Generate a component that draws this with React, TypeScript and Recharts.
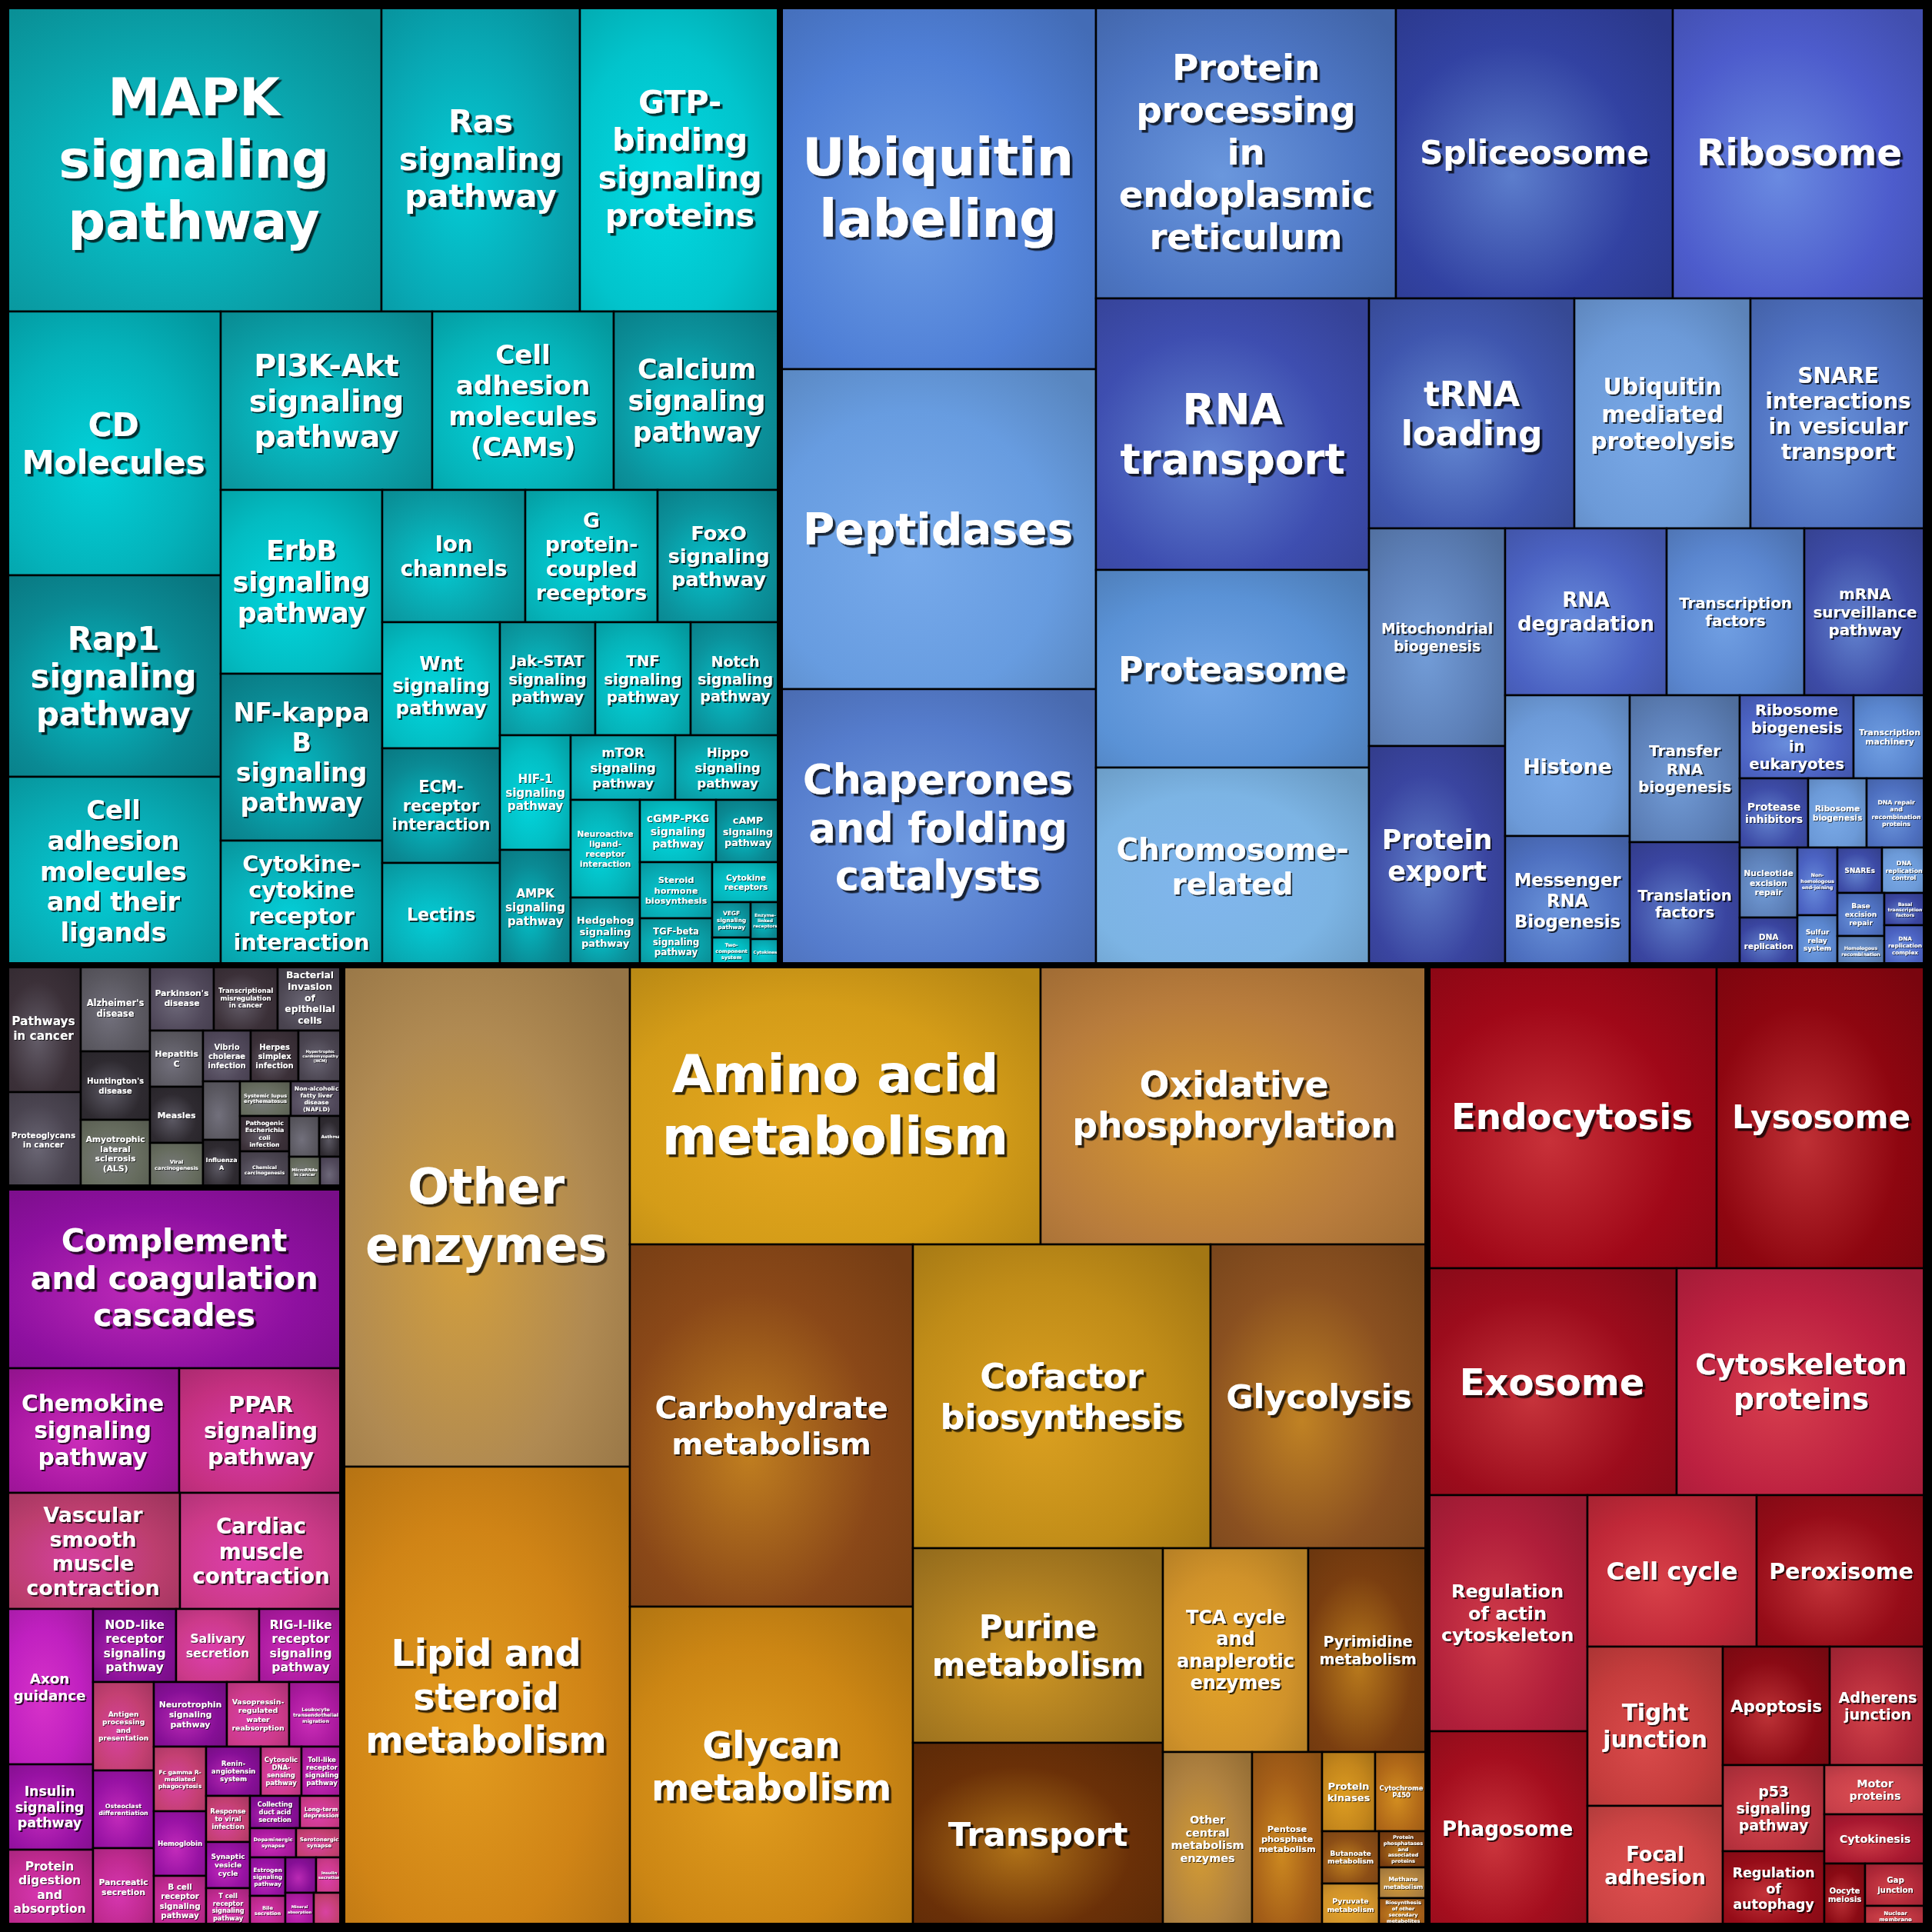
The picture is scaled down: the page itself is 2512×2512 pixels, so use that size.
import React from "react";
import { Treemap } from "recharts";

const SIZE = 2496;
const OFFSET = 8;
const LINE = 1.18;

// estimated cell areas (arbitrary units, comparable across groups)
const signaling = [
  { name: "MAPK signaling pathway", size: 85 },
  { name: "Ras signaling pathway", size: 45 },
  { name: "GTP-binding signaling proteins", size: 45 },
  { name: "CD Molecules", size: 42 },
  { name: "Rap1 signaling pathway", size: 32 },
  { name: "Cell adhesion molecules and their ligands", size: 30 },
  { name: "PI3K-Akt signaling pathway", size: 28 },
  { name: "Cell adhesion molecules (CAMs)", size: 24 },
  { name: "Calcium signaling pathway", size: 22 },
  { name: "ErbB signaling pathway", size: 22 },
  { name: "NF-kappa B signaling pathway", size: 20 },
  { name: "Cytokine-cytokine receptor interaction", size: 15 },
  { name: "Ion channels", size: 14 },
  { name: "G protein-coupled receptors", size: 13 },
  { name: "FoxO signaling pathway", size: 12 },
  { name: "Wnt signaling pathway", size: 11 },
  { name: "ECM-receptor interaction", size: 10 },
  { name: "Lectins", size: 9 },
  { name: "Jak-STAT signaling pathway", size: 8 },
  { name: "TNF signaling pathway", size: 8 },
  { name: "Notch signaling pathway", size: 7.5 },
  { name: "HIF-1 signaling pathway", size: 6 },
  { name: "AMPK signaling pathway", size: 6 },
  { name: "mTOR signaling pathway", size: 5 },
  { name: "Hippo signaling pathway", size: 5 },
  { name: "Neuroactive ligand-receptor interaction", size: 5 },
  { name: "Hedgehog signaling pathway", size: 3.5 },
  { name: "cGMP-PKG signaling pathway", size: 3.5 },
  { name: "cAMP signaling pathway", size: 3 },
  { name: "Steroid hormone biosynthesis", size: 3 },
  { name: "TGF-beta signaling pathway", size: 2.5 },
  { name: "Cytokine receptors", size: 2 },
  { name: "VEGF signaling pathway", size: 1 },
  { name: "Two-component system", size: 0.8 },
  { name: "Enzyme-linked receptors", size: 0.8 },
  { name: "Cytokines", size: 0.5 },
];

const genetic = [
  { name: "Ubiquitin labeling", size: 85 },
  { name: "Peptidases", size: 75 },
  { name: "Chaperones and folding catalysts", size: 65 },
  { name: "Protein processing in endoplasmic reticulum", size: 65 },
  { name: "Spliceosome", size: 60 },
  { name: "Ribosome", size: 55 },
  { name: "RNA transport", size: 55 },
  { name: "Proteasome", size: 40 },
  { name: "Chromosome-related", size: 40 },
  { name: "tRNA loading", size: 35 },
  { name: "Ubiquitin mediated proteolysis", size: 30 },
  { name: "SNARE interactions in vesicular transport", size: 30 },
  { name: "Mitochondrial biogenesis", size: 22 },
  { name: "Protein export", size: 22 },
  { name: "RNA degradation", size: 20 },
  { name: "Transcription factors", size: 17 },
  { name: "mRNA surveillance pathway", size: 15 },
  { name: "Histone", size: 13 },
  { name: "Messenger RNA Biogenesis", size: 12 },
  { name: "Transfer RNA biogenesis", size: 12 },
  { name: "Translation factors", size: 10 },
  { name: "Ribosome biogenesis in eukaryotes", size: 7 },
  { name: "Transcription machinery", size: 4.5 },
  { name: "Protease inhibitors", size: 3.5 },
  { name: "Ribosome biogenesis", size: 3 },
  { name: "DNA repair and recombination proteins", size: 3 },
  { name: "Nucleotide excision repair", size: 3 },
  { name: "DNA replication", size: 2 },
  { name: "Non-homologous end-joining", size: 2 },
  { name: "Sulfur relay system", size: 1.5 },
  { name: "SNAREs", size: 1.5 },
  { name: "DNA replication control", size: 1.5 },
  { name: "Base excision repair", size: 1.5 },
  { name: "Homologous recombination", size: 1 },
  { name: "Basal transcription factors", size: 1 },
  { name: "DNA replication complex", size: 0.8 },
];

const metabolism = [
  { name: "Other enzymes", size: 107 },
  { name: "Lipid and steroid metabolism", size: 98 },
  { name: "Amino acid metabolism", size: 85 },
  { name: "Oxidative phosphorylation", size: 80 },
  { name: "Carbohydrate metabolism", size: 76 },
  { name: "Glycan metabolism", size: 67 },
  { name: "Cofactor biosynthesis", size: 67 },
  { name: "Glycolysis", size: 49 },
  { name: "Purine metabolism", size: 36 },
  { name: "Transport", size: 34 },
  { name: "TCA cycle and anaplerotic enzymes", size: 22 },
  { name: "Pyrimidine metabolism", size: 18 },
  { name: "Other central metabolism enzymes", size: 11.5 },
  { name: "Pentose phosphate metabolism", size: 9 },
  { name: "Protein kinases", size: 3.1 },
  { name: "Cytochrome P450", size: 3.1 },
  { name: "Butanoate metabolism", size: 2.2 },
  { name: "Pyruvate metabolism", size: 1.8 },
  { name: "Protein phosphatases and associated proteins", size: 1.3 },
  { name: "Methane metabolism", size: 1.1 },
  { name: "Biosynthesis of other secondary metabolites", size: 0.9 },
];

const cellular = [
  { name: "Endocytosis", size: 65 },
  { name: "Lysosome", size: 47 },
  { name: "Exosome", size: 42 },
  { name: "Cytoskeleton proteins", size: 42 },
  { name: "Regulation of actin cytoskeleton", size: 28 },
  { name: "Phagosome", size: 23 },
  { name: "Cell cycle", size: 19 },
  { name: "Peroxisome", size: 19 },
  { name: "Tight junction", size: 16 },
  { name: "Focal adhesion", size: 12 },
  { name: "Apoptosis", size: 9.4 },
  { name: "Adherens junction", size: 8.4 },
  { name: "p53 signaling pathway", size: 6.5 },
  { name: "Regulation of autophagy", size: 5.6 },
  { name: "Motor proteins", size: 3.7 },
  { name: "Cytokinesis", size: 3.7 },
  { name: "Oocyte meiosis", size: 1.9 },
  { name: "Gap junction", size: 1.9 },
  { name: "Nuclear membrane", size: 1.1 },
];

const organismal = [
  { name: "Complement and coagulation cascades", size: 45 },
  { name: "Chemokine signaling pathway", size: 16 },
  { name: "PPAR signaling pathway", size: 15 },
  { name: "Vascular smooth muscle contraction", size: 15 },
  { name: "Cardiac muscle contraction", size: 14 },
  { name: "Axon guidance", size: 10 },
  { name: "Insulin signaling pathway", size: 5.5 },
  { name: "Protein digestion and absorption", size: 5 },
  { name: "NOD-like receptor signaling pathway", size: 4.5 },
  { name: "Salivary secretion", size: 4.5 },
  { name: "RIG-I-like receptor signaling pathway", size: 4.5 },
  { name: "Antigen processing and presentation", size: 4 },
  { name: "Osteoclast differentiation", size: 3.5 },
  { name: "Pancreatic secretion", size: 3.5 },
  { name: "Neurotrophin signaling pathway", size: 3.5 },
  { name: "Vasopressin-regulated water reabsorption", size: 3 },
  { name: "Leukocyte transendothelial migration", size: 2.5 },
  { name: "Fc gamma R-mediated phagocytosis", size: 2.5 },
  { name: "Hemoglobin", size: 2.5 },
  { name: "B cell receptor signaling pathway", size: 2 },
  { name: "Renin-angiotensin system", size: 2 },
  { name: "Cytosolic DNA-sensing pathway", size: 1.5 },
  { name: "Toll-like receptor signaling pathway", size: 1.5 },
  { name: "Response to viral infection", size: 1.5 },
  { name: "Synaptic vesicle cycle", size: 1.5 },
  { name: "T cell receptor signaling pathway", size: 1.2 },
  { name: "Collecting duct acid secretion", size: 1.2 },
  { name: "Long-term depression", size: 1 },
  { name: "Dopaminergic synapse", size: 1 },
  { name: "Serotonergic synapse", size: 1 },
  { name: "Estrogen signaling pathway", size: 1 },
  { name: "Bile secretion", size: 0.8 },
  { name: "Carbohydrate digestion and absorption", size: 0.8 },
  { name: "Insulin secretion", size: 0.7 },
  { name: "Mineral absorption", size: 0.7 },
  { name: "Proximal tubule bicarbonate reclamation", size: 0.7 },
];

const disease = [
  { name: "Pathways in cancer", size: 7 },
  { name: "Proteoglycans in cancer", size: 5.3 },
  { name: "Alzheimer's disease", size: 4.4 },
  { name: "Huntington's disease", size: 3.5 },
  { name: "Amyotrophic lateral sclerosis (ALS)", size: 3.5 },
  { name: "Parkinson's disease", size: 3.1 },
  { name: "Transcriptional misregulation in cancer", size: 3.1 },
  { name: "Bacterial invasion of epithelial cells", size: 3.1 },
  { name: "Hepatitis C", size: 2.2 },
  { name: "Measles", size: 2.2 },
  { name: "Viral carcinogenesis", size: 1.8 },
  { name: "Vibrio cholerae infection", size: 1.8 },
  { name: "Herpes simplex infection", size: 1.8 },
  { name: "Hypertrophic cardiomyopathy (HCM)", size: 1.6 },
  { name: "Arrhythmogenic right ventricular cardiomyopathy (ARVC)", size: 1.6 },
  { name: "Influenza A", size: 1.3 },
  { name: "Systemic lupus erythematosus", size: 1.3 },
  { name: "Non-alcoholic fatty liver disease (NAFLD)", size: 1.3 },
  { name: "Pathogenic Escherichia coli infection", size: 1.3 },
  { name: "Chemical carcinogenesis", size: 1.3 },
  { name: "Staphylococcus aureus infection", size: 0.9 },
  { name: "Asthma", size: 0.7 },
  { name: "MicroRNAs in cancer", size: 0.7 },
  { name: "Basal cell carcinoma", size: 0.5 },
];

// colours per top-level group
const groupStyle: Record<string, { bases: string[]; glow: string }> = {
  signaling: { bases: ["#0a9fa7", "#05b3b9", "#0b929c", "#03bcc2", "#0a8a94", "#08aab3"], glow: "#00f0f8" },
  genetic: { bases: ["#4b62c2", "#5a86cf", "#3d4ba6", "#6c9ad8", "#4e70c0", "#5d80b8", "#3a45a0"], glow: "#86b8f6" },
  metabolism: { bases: ["#c4861c", "#b06818", "#8c4e16", "#d0922a", "#7a3e10", "#b08240", "#a45e18"], glow: "#f6b427" },
  cellular: { bases: ["#b8323e", "#960c18", "#c8404a", "#a81830", "#8a0a14", "#b02838"], glow: "#f05a5a" },
  organismal: { bases: ["#9812a4", "#c02a90", "#860f96", "#cc3a8a", "#ac1aa0", "#c44072"], glow: "#ee44d2" },
  disease: { bases: ["#3b3038", "#4a4450", "#5a5860", "#2e2a30", "#666c5e", "#50485a"], glow: "#8a8898" },
};

// hand-picked colours for the big cells so they read like the original
const cellColor: Record<string, string> = {
  "MAPK signaling pathway": "#0aa3ab",
  "GTP-binding signaling proteins": "#02c4cc",
  "CD Molecules": "#04b2ba",
  "Ras signaling pathway": "#08a8b4",
  "Ubiquitin labeling": "#4f7fd6",
  "Peptidases": "#679ce0",
  "Chaperones and folding catalysts": "#557ccc",
  "Protein processing in endoplasmic reticulum": "#4d76c4",
  "Spliceosome": "#3242a2",
  "Ribosome": "#4d5ccc",
  "RNA transport": "#3e4eb0",
  "Chromosome-related": "#7cb4e4",
  "Proteasome": "#5a92d6",
  "tRNA loading": "#3f56ae",
  "Other enzymes": "#b08a52",
  "Lipid and steroid metabolism": "#d08416",
  "Amino acid metabolism": "#d49c18",
  "Oxidative phosphorylation": "#b87c3c",
  "Carbohydrate metabolism": "#8a4818",
  "Glycan metabolism": "#cc8614",
  "Cofactor biosynthesis": "#c08c18",
  "Glycolysis": "#8a5020",
  "Purine metabolism": "#a87a20",
  "Transport": "#6a3008",
  "Endocytosis": "#a00818",
  "Lysosome": "#8e0610",
  "Exosome": "#9c0c1c",
  "Cytoskeleton proteins": "#bc2040",
  "Regulation of actin cytoskeleton": "#b01e3a",
  "Phagosome": "#a40e1e",
  "Cell cycle": "#c02838",
  "Focal adhesion": "#cc4444",
  "Tight junction": "#c43c3c",
  "Complement and coagulation cascades": "#8e10a0",
  "Chemokine signaling pathway": "#a616a0",
  "PPAR signaling pathway": "#c43080",
  "Vascular smooth muscle contraction": "#bc3e6e",
  "Cardiac muscle contraction": "#cc3a88",
  "Axon guidance": "#c020c0",
};

const asLeaves = (group: string, items: { name: string; size: number }[]) =>
  [...items].sort((a, b) => b.size - a.size).map((d) => ({ ...d, group }));

const treeData = [
  {
    name: "top",
    children: [
      { name: "Environmental information processing", group: "signaling", children: asLeaves("signaling", signaling) },
      { name: "Genetic information processing", group: "genetic", children: asLeaves("genetic", genetic) },
    ],
  },
  {
    name: "bottom",
    children: [
      {
        name: "left",
        children: [
          { name: "Human diseases", group: "disease", children: asLeaves("disease", disease) },
          { name: "Organismal systems", group: "organismal", children: asLeaves("organismal", organismal) },
        ],
      },
      { name: "Metabolism", group: "metabolism", children: asLeaves("metabolism", metabolism) },
      { name: "Cellular processes", group: "cellular", children: asLeaves("cellular", cellular) },
    ],
  },
];

const hex = (h: string) => [1, 3, 5].map((i) => parseInt(h.slice(i, i + 2), 16));
const mix = (a: string, b: string, t: number) => {
  const ca = hex(a);
  const cb = hex(b);
  return `rgb(${ca.map((v, i) => Math.round(v + (cb[i] - v) * t)).join(",")})`;
};

let ctx: CanvasRenderingContext2D | null = null;
const FONT = '"DejaVu Sans", Verdana, sans-serif';
const measure = (s: string, fs: number) => {
  if (!ctx) ctx = document.createElement("canvas").getContext("2d");
  if (!ctx) return s.length * fs * 0.65;
  ctx.font = `bold ${fs}px ${FONT}`;
  return ctx.measureText(s).width;
};

// greedy wrap; also allows breaking after hyphens
const wrap = (name: string, fs: number, maxW: number) => {
  const toks: { t: string; sp: boolean }[] = [];
  name.split(" ").forEach((w, wi) => w.split(/(?<=-)/).forEach((p, pi) => toks.push({ t: p, sp: pi === 0 && wi > 0 })));
  const lines: string[] = [];
  let line = "";
  for (const tok of toks) {
    if (!line) {
      if (measure(tok.t, fs) > maxW) return null;
      line = tok.t;
      continue;
    }
    const cand = line + (tok.sp ? " " : "") + tok.t;
    if (measure(cand, fs) <= maxW) line = cand;
    else {
      if (measure(tok.t, fs) > maxW) return null;
      lines.push(line);
      line = tok.t;
    }
  }
  if (line) lines.push(line);
  return lines;
};

const fitLabel = (name: string, w: number, h: number) => {
  let fs = Math.min(0.155 * Math.sqrt(w * h), 84);
  while (fs >= 5) {
    const lines = wrap(name, fs, w * 0.86);
    if (lines && lines.length * fs * LINE <= h * 0.86) return { fs, lines };
    fs *= 0.94;
  }
  return null;
};

const renderCell = (props: any) => {
  const { x, y, width, height, name, group, children, index } = props;
  if ((children && children.length) || !group || !(width > 0) || !(height > 0)) return <g />;
  const st = groupStyle[group];
  const base = cellColor[name] || st.bases[index % st.bases.length];
  const id = `grad-${group}-${index}`;
  const label = fitLabel(String(name), width, height);
  const cx = x + width / 2;
  let text = null;
  if (label) {
    const { fs, lines } = label;
    const lh = fs * LINE;
    const top = y + height / 2 - ((lines.length - 1) * lh) / 2;
    const shadow = fs > 40 ? "url(#txtShadowL)" : fs > 16 ? "url(#txtShadowM)" : "url(#txtShadowS)";
    text = (
      <text
        x={cx}
        textAnchor="middle"
        dominantBaseline="central"
        fontFamily={FONT}
        fontWeight="bold"
        fontSize={fs}
        fill="#fff"
        filter={shadow}
      >
        {lines.map((l, i) => (
          <tspan key={i} x={cx} y={top + i * lh}>
            {l}
          </tspan>
        ))}
      </text>
    );
  }
  return (
    <g>
      <defs>
        <radialGradient id={id} cx="42%" cy="58%" r="75%">
          <stop offset="0%" stopColor={mix(base, st.glow, 0.5)} />
          <stop offset="60%" stopColor={base} />
          <stop offset="100%" stopColor={mix(base, "#000000", 0.15)} />
        </radialGradient>
      </defs>
      <rect x={x} y={y} width={width} height={height} fill={`url(#${id})`} stroke="#000" strokeWidth={2.5} />
      {text}
    </g>
  );
};

const renderFrame = (props: any) => {
  const { x, y, width, height, group, children } = props;
  if (!(children && children.length && group)) return <g />;
  return <rect x={x} y={y} width={width} height={height} fill="none" stroke="#000" strokeWidth={8} />;
};

export default function App() {
  const layer: React.CSSProperties = { position: "absolute", left: OFFSET, top: OFFSET, width: SIZE, height: SIZE };
  return (
    <div style={{ position: "absolute", left: 0, top: 0, width: 2512, height: 2512, background: "#000" }}>
      <svg width={0} height={0} style={{ position: "absolute" }}>
        <defs>
          <filter id="txtShadowL" x="-10%" y="-10%" width="130%" height="130%">
            <feDropShadow dx={3.5} dy={3.5} stdDeviation={0.6} floodColor="#000" floodOpacity={0.75} />
          </filter>
          <filter id="txtShadowM" x="-10%" y="-10%" width="130%" height="130%">
            <feDropShadow dx={2} dy={2} stdDeviation={0.4} floodColor="#000" floodOpacity={0.75} />
          </filter>
          <filter id="txtShadowS" x="-10%" y="-10%" width="130%" height="130%">
            <feDropShadow dx={1} dy={1} stdDeviation={0.2} floodColor="#000" floodOpacity={0.7} />
          </filter>
        </defs>
      </svg>
      <div style={layer}>
        <Treemap
          width={SIZE}
          height={SIZE}
          data={treeData}
          dataKey="size"
          aspectRatio={0.9}
          isAnimationActive={false}
          content={renderCell}
        />
      </div>
      <div style={{ ...layer, pointerEvents: "none" }}>
        <Treemap
          width={SIZE}
          height={SIZE}
          data={treeData}
          dataKey="size"
          aspectRatio={0.9}
          isAnimationActive={false}
          content={renderFrame}
        />
      </div>
    </div>
  );
}
